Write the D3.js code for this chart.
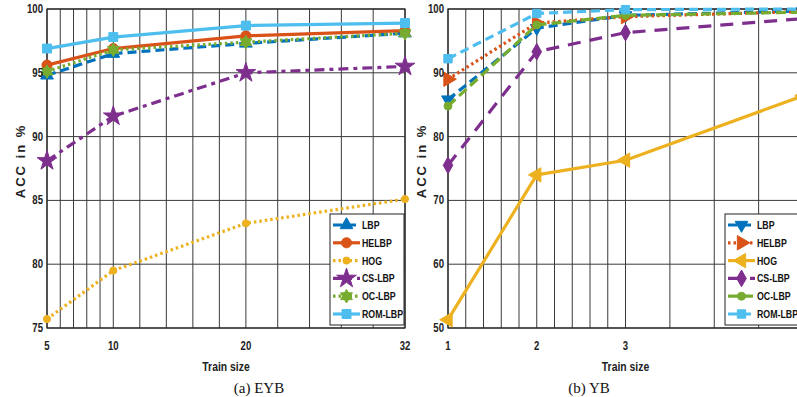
<!DOCTYPE html>
<html>
<head>
<meta charset="utf-8">
<script src="https://cdn.jsdelivr.net/npm/d3@7"></script>
<style>
  body { margin: 0; background: #fff; }
  svg { display: block; }
  .tick-label { font-family: "Liberation Sans Narrow", "Arial Narrow", "Liberation Sans", sans-serif; font-weight: bold; font-size: 12px; fill: #222; }
  .x-title { font-family: "Liberation Sans Narrow", "Arial Narrow", "Liberation Sans", sans-serif; font-weight: bold; font-size: 13px; fill: #222; }
  .y-title { font-family: "Liberation Sans", Arial, sans-serif; font-weight: bold; font-size: 13px; letter-spacing: 2px; fill: #222; }
  .caption { font-family: "Liberation Serif", "Times New Roman", serif; font-size: 15px; fill: #111; }
  .legend-text { font-family: "Liberation Sans Narrow", "Arial Narrow", "Liberation Sans", sans-serif; font-weight: bold; font-size: 11px; fill: #111; }
</style>
</head>
<body>
<div id="chart"></div>
<script>
// legend order of the methods
var methods = ["LBP", "HELBP", "HOG", "CS-LBP", "OC-LBP", "ROM-LBP"];

// (a) EYB
var eybSizes  = [5, 10, 20, 32];
var eybLBP    = [94.8, 96.5, 97.3, 98.1];
var eybHELBP  = [95.6, 96.9, 97.9, 98.3];
var eybHOG    = [75.7, 79.5, 83.2, 85.1];
var eybCSLBP  = [88.1, 91.6, 95.0, 95.5];
var eybOCLBP  = [95.1, 96.8, 97.4, 98.1];
var eybROMLBP = [96.9, 97.8, 98.7, 98.9];
var eybXTicks = [5, 10, 20, 32];
var eybXGrid  = [5, 6, 7, 8, 9, 10, 12, 14, 16, 18, 20, 22.4, 24.8, 27.2, 29.6, 32];
var eybYTicks = [75, 80, 85, 90, 95, 100];

// (b) YB
var ybSizes  = [1, 2, 3, 5];
var ybLBP    = [85.8, 97.0, 99.0, 99.7];
var ybHELBP  = [89.0, 97.8, 98.8, 99.6];
var ybHOG    = [51.3, 74.0, 76.3, 86.4];
var ybCSLBP  = [75.5, 93.3, 96.3, 98.5];
var ybOCLBP  = [84.8, 97.5, 99.0, 99.5];
var ybROMLBP = [92.2, 99.3, 99.9, 100];
var ybXTicks = [1, 2, 3];
var ybXGrid  = [1, 1.2, 1.4, 1.6, 1.8, 2, 2.2, 2.4, 2.6, 2.8, 3, 3.5, 4, 4.5, 5];
var ybYTicks = [50, 60, 70, 80, 90, 100];

var colors = {
    "LBP": "#0072BD", "HELBP": "#D95319", "HOG": "#EDB120",
    "CS-LBP": "#7E2F8E", "OC-LBP": "#77AC30", "ROM-LBP": "#4DBEEE"
};

// custom symbols not in d3
var hexagram = {
    draw: function(ctx, size) {
        var r = Math.sqrt(size) * 0.62;
        for (var t = 0; t < 2; t++) {
            for (var i = 0; i < 3; i++) {
                var a = (t * 60 + i * 120 - 90) * Math.PI / 180;
                if (i === 0) ctx.moveTo(r * Math.cos(a), r * Math.sin(a));
                else ctx.lineTo(r * Math.cos(a), r * Math.sin(a));
            }
            ctx.closePath();
        }
    }
};

function markerPath(kind, size) {
    var types = {
        triUp: d3.symbolTriangle, triDown: d3.symbolTriangle, triRight: d3.symbolTriangle, triLeft: d3.symbolTriangle,
        circle: d3.symbolCircle, star: d3.symbolStar, square: d3.symbolSquare, diamond: d3.symbolDiamond,
        hexagram: hexagram
    };
    return d3.symbol().type(types[kind]).size(size)();
}
var markerRot = { triDown: 180, triRight: 90, triLeft: -90 };

// no narrow font installed: squeeze bold sans text horizontally
var NARROW = 0.8;
function narrowText(parent, x, y, anchor, cls, str) {
    return parent.append("text")
        .attr("class", cls)
        .attr("text-anchor", anchor)
        .attr("transform", "translate(" + x + "," + y + ") scale(" + NARROW + ",1)")
        .text(str);
}

var svg = d3.select("#chart").append("svg")
    .attr("width", 797)
    .attr("height", 397);

svg.append("rect").attr("width", 797).attr("height", 397).attr("fill", "#fff");

function drawPanel(cfg) {
    var g = svg.append("g");

    var x = d3.scaleLinear().domain(cfg.xDomain).range([cfg.left, cfg.right]);
    var y = d3.scaleLinear().domain(cfg.yDomain).range([cfg.bottom, cfg.top]);

    // grid
    g.selectAll(".vgrid").data(cfg.xGrid).join("line")
        .attr("x1", d => x(d)).attr("x2", d => x(d))
        .attr("y1", cfg.top).attr("y2", cfg.bottom)
        .attr("stroke", "#3a3a3a").attr("stroke-width", 1);
    g.selectAll(".hgrid").data(cfg.yTicks).join("line")
        .attr("x1", cfg.left).attr("x2", cfg.right)
        .attr("y1", d => y(d)).attr("y2", d => y(d))
        .attr("stroke", "#3a3a3a").attr("stroke-width", 1);

    // frame
    g.append("rect")
        .attr("x", cfg.left).attr("y", cfg.top)
        .attr("width", cfg.right - cfg.left).attr("height", cfg.bottom - cfg.top)
        .attr("fill", "none").attr("stroke", "#222").attr("stroke-width", 1.2);

    var line = d3.line()
        .x(d => x(d[0]))
        .y(d => y(d[1]));

    cfg.series.forEach(function(s) {
        var pts = cfg.sizes.map((v, i) => [v, s.values[i]]);
        g.append("path")
            .datum(pts)
            .attr("d", line)
            .attr("fill", "none")
            .attr("stroke", colors[s.name])
            .attr("stroke-width", s.width || 3.2)
            .attr("stroke-dasharray", s.dash)
            .attr("stroke-linejoin", "round");
        g.selectAll(null).data(pts).join("path")
            .attr("d", markerPath(s.marker, s.msize))
            .attr("transform", d => "translate(" + x(d[0]) + "," + y(d[1]) + ") rotate(" + (markerRot[s.marker] || 0) + ")")
            .attr("fill", colors[s.name])
            .attr("stroke", colors[s.name])
            .attr("stroke-width", 1);
    });

    // tick labels
    cfg.xTicks.forEach(function(t) {
        narrowText(g, x(t), cfg.bottom + 22, "middle", "tick-label", t);
    });
    cfg.yTicks.forEach(function(t) {
        narrowText(g, cfg.left - 4, y(t) + 4, "end", "tick-label", t);
    });

    // axis titles
    narrowText(g, (cfg.left + cfg.right) / 2, cfg.bottom + 43, "middle", "x-title", "Train size");
    g.append("text").attr("class", "y-title")
        .attr("text-anchor", "middle")
        .attr("transform", "translate(" + (cfg.left - 22) + "," + 161 + ")rotate(-90)")
        .text("ACC in %");

    // caption
    g.append("text").attr("class", "caption")
        .attr("x", cfg.captionX).attr("y", 393)
        .attr("text-anchor", "middle").text(cfg.caption);

    // legend
    var lg = g.append("g").attr("transform", "translate(" + cfg.legend.x + "," + cfg.legend.y + ")");
    lg.append("rect")
        .attr("width", cfg.legend.w).attr("height", 111)
        .attr("fill", "#fff").attr("stroke", "#222").attr("stroke-width", 1);
    cfg.series.forEach(function(s, i) {
        var row = lg.append("g").attr("transform", "translate(0," + (11 + i * 17.8) + ")");
        row.append("line")
            .attr("x1", 3).attr("x2", 30)
            .attr("stroke", colors[s.name])
            .attr("stroke-width", s.width || 3.2)
            .attr("stroke-dasharray", s.dash);
        row.append("path")
            .attr("d", markerPath(s.marker, s.msize))
            .attr("transform", "translate(16.5,0) rotate(" + (markerRot[s.marker] || 0) + ")")
            .attr("fill", colors[s.name]).attr("stroke", colors[s.name]);
        narrowText(row, 32, 4, "start", "legend-text", s.name);
    });
}

drawPanel({
    left: 47, right: 405, top: 9, bottom: 328,
    xDomain: [5, 32], yDomain: [75, 100],
    xGrid: eybXGrid, xTicks: eybXTicks, yTicks: eybYTicks,
    sizes: eybSizes,
    series: [
        { name: methods[0], values: eybLBP,    dash: "9,5",       marker: "triUp",    msize: 70 },
        { name: methods[1], values: eybHELBP,  dash: null,        marker: "circle",   msize: 80 },
        { name: methods[2], values: eybHOG,    dash: "2.5,3",     marker: "circle",   msize: 40 },
        { name: methods[3], values: eybCSLBP,  dash: "10,5,4,5",  marker: "star",     msize: 120 },
        { name: methods[4], values: eybOCLBP,  dash: "2.5,3",     marker: "hexagram", msize: 120 },
        { name: methods[5], values: eybROMLBP, dash: null,        marker: "square",   msize: 80 }
    ],
    legend: { x: 330, y: 214, w: 74 },
    caption: "(a) EYB", captionX: 259
});

drawPanel({
    left: 448, right: 803, top: 9, bottom: 328,
    xDomain: [1, 5], yDomain: [50, 100],
    xGrid: ybXGrid, xTicks: ybXTicks, yTicks: ybYTicks,
    sizes: ybSizes,
    series: [
        { name: methods[0], values: ybLBP,    dash: "9,5",   marker: "triDown",  msize: 70 },
        { name: methods[1], values: ybHELBP,  dash: "2.5,3", marker: "triRight", msize: 90 },
        { name: methods[2], values: ybHOG,    dash: null,    marker: "triLeft",  msize: 90 },
        { name: methods[3], values: ybCSLBP,  dash: "13,9",  marker: "diamond",  msize: 80 },
        { name: methods[4], values: ybOCLBP,  dash: "10,5",  marker: "circle",   msize: 50 },
        { name: methods[5], values: ybROMLBP, dash: "9,5",   marker: "square",   msize: 70 }
    ],
    legend: { x: 725, y: 214, w: 78 },
    caption: "(b) YB", captionX: 589
});
</script>
</body>
</html>
